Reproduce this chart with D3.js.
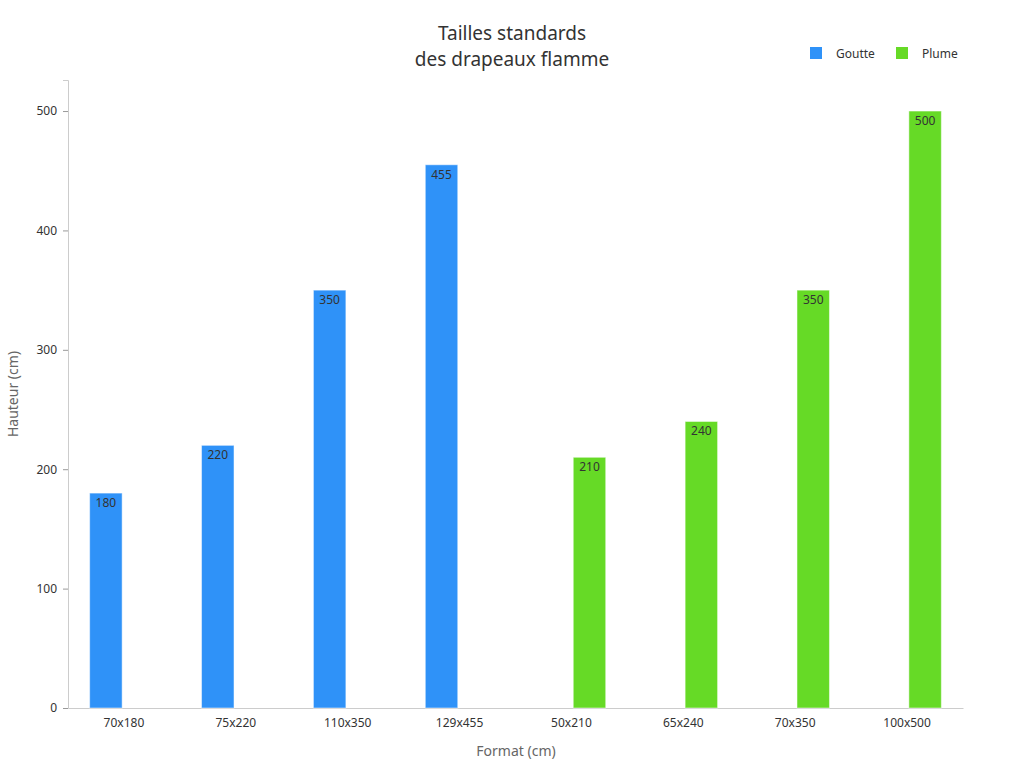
<!DOCTYPE html>
<html lang="fr">
<head>
<meta charset="UTF-8" />
<title>Tailles standards des drapeaux flamme</title>
<style>
  body { margin: 0; background: #fff; }
  text { font-family: "Noto Sans", sans-serif; }
</style>
</head>
<body>
<svg width="1024" height="768"></svg>
<script src="https://d3js.org/d3.v7.min.js"></script>
<script>
const categories = ['70x180', '75x220', '110x350', '129x455', '50x210', '65x240', '70x350', '100x500'];
const seriesNames = ['Goutte', 'Plume'];
const goutte = [180, 220, 350, 455, null, null, null, null];
const plume = [null, null, null, null, 210, 240, 350, 500];
const yTicks = [0, 100, 200, 300, 400, 500];
const colors = ['#2f92f8', '#66da26'];

const svg = d3.select('svg');
const m = { left: 68, right: 963, top: 80, bottom: 708 };

const x = d3.scaleBand().domain(categories).range([m.left, m.right]);
const sub = d3.scaleBand().domain(seriesNames).range([0, x.bandwidth()]).paddingInner(0.1).paddingOuter(0.6);
const y = d3.scaleLinear().domain([0, 526]).range([m.bottom, m.top]);

// y axis
const yAxis = svg.append('g').attr('transform', `translate(${m.left},0)`)
  .call(d3.axisLeft(y).tickValues(yTicks).tickSize(5).tickPadding(6));
yAxis.select('.domain').attr('stroke', '#ccc');
yAxis.selectAll('.tick line').attr('stroke', '#999');
yAxis.selectAll('text').attr('font-size', 12).attr('fill', '#333').attr('font-family', 'Noto Sans');

// x axis
const xAxis = svg.append('g').attr('transform', `translate(0,${m.bottom})`)
  .call(d3.axisBottom(x).tickSize(0).tickPadding(10));
xAxis.select('.domain').attr('stroke', '#ccc');
xAxis.selectAll('text').attr('font-size', 12).attr('fill', '#333').attr('font-family', 'Noto Sans');

const series = [goutte, plume];
series.forEach((vals, si) => {
  const data = categories.map((c, i) => ({ c, v: vals[i] })).filter(d => d.v != null);
  const g = svg.append('g');
  g.selectAll('rect').data(data).join('rect')
    .attr('x', d => x(d.c) + sub(seriesNames[si]))
    .attr('width', sub.bandwidth())
    .attr('y', d => y(d.v))
    .attr('height', d => y(0) - y(d.v))
    .attr('fill', colors[si])
    .attr('stroke', 'rgba(255,255,255,0.5)');
  g.selectAll('text').data(data).join('text')
    .attr('x', d => x(d.c) + sub(seriesNames[si]) + sub.bandwidth() / 2)
    .attr('y', d => y(d.v) + 14)
    .attr('text-anchor', 'middle')
    .attr('font-size', 12)
    .attr('fill', '#333')
    .text(d => d.v);
});

// title
svg.append('text').attr('x', 512).attr('y', 40).attr('text-anchor', 'middle')
  .attr('font-size', 19).attr('fill', '#333').text('Tailles standards');
svg.append('text').attr('x', 512).attr('y', 66).attr('text-anchor', 'middle')
  .attr('font-size', 19).attr('fill', '#333').text('des drapeaux flamme');

// axis titles
svg.append('text').attr('x', 516).attr('y', 756).attr('text-anchor', 'middle')
  .attr('font-size', 14).attr('fill', '#666').text('Format (cm)');
svg.append('text').attr('transform', 'translate(18,394) rotate(-90)').attr('text-anchor', 'middle')
  .attr('font-size', 14).attr('fill', '#666').text('Hauteur (cm)');

// legend
const legX = [810, 896];
seriesNames.forEach((n, i) => {
  svg.append('rect').attr('x', legX[i]).attr('y', 47).attr('width', 12).attr('height', 12).attr('fill', colors[i]);
  svg.append('text').attr('x', legX[i] + 26).attr('y', 58).attr('font-size', 12).attr('fill', '#333').text(n);
});
</script>
</body>
</html>
